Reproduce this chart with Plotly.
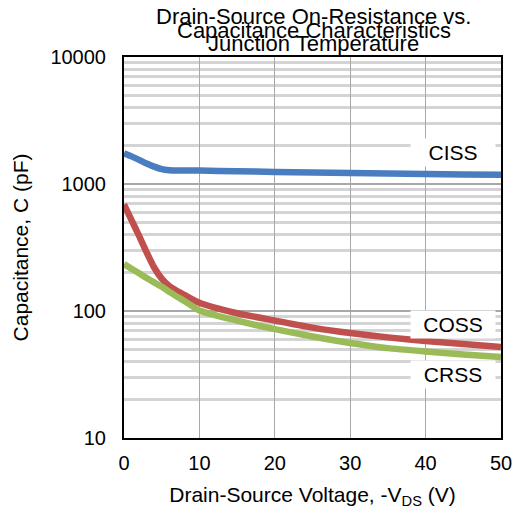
import math
import plotly.graph_objects as go

# Data
vds = [0, 1, 2, 3, 4, 5, 6, 7, 8, 10, 15, 20, 25, 30, 35, 40, 45, 50]
ciss = [1750, 1650, 1550, 1450, 1370, 1310, 1285, 1280, 1280, 1275, 1260, 1245, 1230, 1220, 1210, 1200, 1190, 1180]
coss = [690, 520, 390, 290, 220, 180, 157, 144, 134, 116, 96, 84, 74, 67, 62, 58, 55, 52]
crss = [234, 215, 198, 182, 168, 155, 142, 130, 120, 101, 84, 72, 63, 56, 51, 48, 45.5, 43.5]

series_names = ["CISS", "COSS", "CRSS"]
series_colors = ["#4a7dc0", "#c0504d", "#9bbb59"]
label_x = [43.6, 43.6, 43.6]
label_y = [1760, 79, 31.5]

title_lines = ["Drain-Source On-Resistance vs.", "Capacitance Characteristics", "Junction Temperature"]

x_ticks = [0, 10, 20, 30, 40, 50]
y_major = [10, 100, 1000, 10000]
y_minor = [m * d for d in [10, 100, 1000] for m in range(2, 10)]

FONT = "Liberation Sans, Arial, sans-serif"

fig = go.Figure()
for name, vals, col in zip(series_names, [ciss, coss, crss], series_colors):
    fig.add_trace(go.Scatter(x=vds, y=vals, mode="lines", name=name,
                             line=dict(color=col, width=6.5, shape="spline", smoothing=0.6)))

for name, lx, ly in zip(series_names, label_x, label_y):
    fig.add_annotation(x=lx, y=math.log10(ly), xref="x", yref="y", text=name,
                       showarrow=False, bgcolor="white", borderpad=2,
                       font=dict(size=21, color="black", family=FONT),
                       width=80)

# three title lines drawn overlapping as in the reference (pixel centres 16, 30, 43)
title_y = [16, 30, 43]
for t, ty in zip(title_lines, title_y):
    fig.add_annotation(x=(316 - 124) / 381, y=(439 - ty) / 382, xref="x domain", yref="y domain",
                       text=t, showarrow=False, yanchor="middle",
                       font=dict(size=22, color="black", family=FONT))

fig.update_layout(
    width=524, height=515,
    margin=dict(l=124, r=19, t=57, b=76),
    paper_bgcolor="white", plot_bgcolor="white",
    showlegend=False,
    font=dict(family=FONT, size=20, color="black"),
)
fig.update_xaxes(
    range=[0, 50], tickvals=x_ticks, ticks="", showgrid=True,
    gridcolor="#a8a8a8", gridwidth=1, zeroline=False,
    showline=True, linecolor="black", linewidth=2, mirror=True,
    tickfont=dict(size=20, family=FONT), ticklabelstandoff=6,
    title=dict(text="Drain-Source Voltage, -V<sub>DS</sub> (V)", font=dict(size=21, family=FONT), standoff=14),
)
fig.update_yaxes(
    type="log", range=[1, 4], tickvals=y_major, ticktext=[str(v) for v in y_major], ticks="",
    showgrid=True, gridcolor="#a8a8a8", gridwidth=2, zeroline=False,
    showline=True, linecolor="black", linewidth=2, mirror=True,
    tickfont=dict(size=20, family=FONT), ticklabelstandoff=12,
    minor=dict(tickvals=y_minor, showgrid=True, gridcolor="#d4d4d4", gridwidth=3, ticks=""),
    title=dict(text="Capacitance, C (pF)", font=dict(size=21, family=FONT), standoff=16),
)

fig.write_html("out.html")
